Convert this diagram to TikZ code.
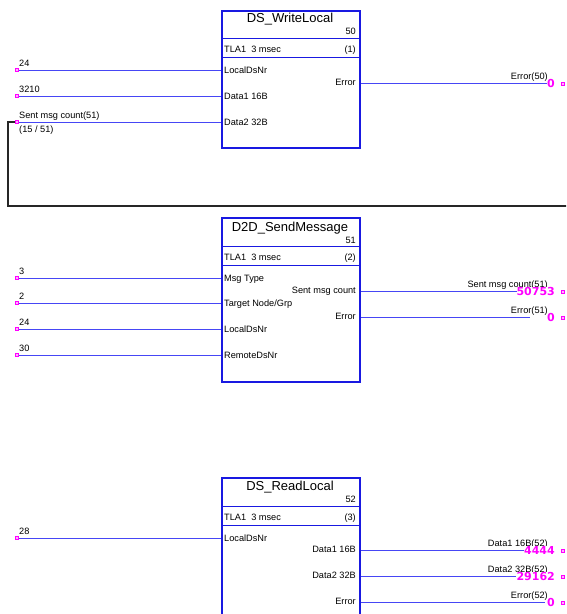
\documentclass[tikz,border=0pt]{standalone}
\usepackage{fontspec}
\setmainfont{Liberation Sans}
\newfontfamily\valfont{DejaVu Sans}
\definecolor{boxblue}{RGB}{25,25,225}
\definecolor{wireblue}{RGB}{70,70,245}
\definecolor{pinmag}{RGB}{255,0,255}
\tikzset{
  fblock/.style={draw=boxblue, line width=2pt, minimum width=138pt, inner sep=0pt, anchor=north west, fill=white},
  sepline/.style={draw=boxblue, line width=1pt},
  wire/.style={draw=wireblue, line width=1pt},
  fbline/.style={draw=black!85, line width=1.2pt},
  pinbox/.style={draw=pinmag, fill=pinmag!30, line width=0.8pt, minimum size=3pt, inner sep=0pt},
  lbl/.style={font=\fontsize{9.2}{10}\selectfont, inner sep=0pt},
  ttl/.style={font=\fontsize{13}{15}\selectfont, inner sep=0pt},
  val/.style={font=\fontsize{11}{13}\valfont\bfseries, text=pinmag, fill=white, inner xsep=0pt, inner ysep=0.5pt, anchor=base east},
}
\begin{document}
\begin{tikzpicture}[x=1pt,y=-1pt]
\useasboundingbox (0,0) rectangle (566,614);
\clip (0,0) rectangle (566,614);

% ---------- feedback line ----------
\coordinate (fbA) at (8,122);
\coordinate (fbB) at (8,206);
\coordinate (fbC) at (567,206);

% ================= Block 1 =================
\node[fblock, minimum height=137pt] (b1) at (221,10) {};
\node[ttl, anchor=base] (b1t) at (290,22.5) {DS\_WriteLocal};
\node[lbl, anchor=base east] (b1n) at (356,34) {50};
\draw[sepline] (221,38.5) -- (359,38.5);
\draw[sepline] (221,57.5) -- (359,57.5);
\node[lbl, anchor=base west] (b1tla) at (224,52.5) {TLA1\ \ 3 msec};
\node[lbl, anchor=base east] (b1o) at (356,52.5) {(1)};
% inputs
\node[pinbox] (i11) at (17,70) {};
\node[pinbox] (i12) at (17,96) {};
\node[pinbox] (i13) at (17,122) {};
\draw[fbline] (i13) -- (fbA) -- (fbB) -- (fbC);
\draw[wire] (i11) -- (i11 -| b1.west);
\draw[wire] (i12) -- (i12 -| b1.west);
\draw[wire] (i13) -- (i13 -| b1.west);
\node[lbl, anchor=base west] at (19,66.5) {24};
\node[lbl, anchor=base west] at (19,92.5) {3210};
\node[lbl, anchor=base west] at (19,118.5) {Sent msg count(51)};
\node[lbl, anchor=base west] at (19,132) {(15 / 51)};
\node[lbl, anchor=base west] at (224,73) {LocalDsNr};
\node[lbl, anchor=base west] at (224,99) {Data1 16B};
\node[lbl, anchor=base west] at (224,125) {Data2 32B};
% outputs
\node[lbl, anchor=base east] at (356,85) {Error};
\coordinate (o11) at (547,83);
\node[lbl, anchor=base east] at (548,79) {Error(50)};
\draw[wire] (b1.east |- o11) -- (o11);
\node[val] (v11) at (555,87.5) {0};
\node[pinbox] (p11) at (563,83.5) {};

% ================= Block 2 =================
\node[fblock, minimum height=164pt] (b2) at (221,217) {};
\node[ttl, anchor=base] (b2t) at (290,231) {D2D\_SendMessage};
\node[lbl, anchor=base east] (b2n) at (356,243) {51};
\draw[sepline] (221,246) -- (359,246);
\draw[sepline] (221,265) -- (359,265);
\node[lbl, anchor=base west] (b2tla) at (224,260) {TLA1\ \ 3 msec};
\node[lbl, anchor=base east] (b2o) at (356,260) {(2)};
% inputs
\node[pinbox] (i21) at (17,278) {};
\node[pinbox] (i22) at (17,303) {};
\node[pinbox] (i23) at (17,329) {};
\node[pinbox] (i24) at (17,355) {};
\draw[wire] (i21) -- (i21 -| b2.west);
\draw[wire] (i22) -- (i22 -| b2.west);
\draw[wire] (i23) -- (i23 -| b2.west);
\draw[wire] (i24) -- (i24 -| b2.west);
\node[lbl, anchor=base west] at (19,274.5) {3};
\node[lbl, anchor=base west] at (19,299.5) {2};
\node[lbl, anchor=base west] at (19,325.5) {24};
\node[lbl, anchor=base west] at (19,351.5) {30};
\node[lbl, anchor=base west] at (224,281) {Msg Type};
\node[lbl, anchor=base west] at (224,306) {Target Node/Grp};
\node[lbl, anchor=base west] at (224,332) {LocalDsNr};
\node[lbl, anchor=base west] at (224,358) {RemoteDsNr};
% outputs
\node[lbl, anchor=base east] at (356,293) {Sent msg count};
\node[lbl, anchor=base east] at (356,319) {Error};
\coordinate (o21) at (517,291);
\coordinate (o22) at (530,317);
\draw[wire] (b2.east |- o21) -- (o21);
\draw[wire] (b2.east |- o22) -- (o22);
\node[lbl, anchor=base east] at (548,287) {Sent msg count(51)};
\node[lbl, anchor=base east] at (548,313) {Error(51)};
\node[val] (v21) at (555,295.5) {50753};
\node[val] (v22) at (555,321.5) {0};
\node[pinbox] (p21) at (563,291.5) {};
\node[pinbox] (p22) at (563,317.5) {};

% ================= Block 3 =================
\node[fblock, minimum height=160pt] (b3) at (221,477) {};
\node[ttl, anchor=base] (b3t) at (290,490.5) {DS\_ReadLocal};
\node[lbl, anchor=base east] (b3n) at (356,502.5) {52};
\draw[sepline] (221,506) -- (359,506);
\draw[sepline] (221,525) -- (359,525);
\node[lbl, anchor=base west] (b3tla) at (224,520) {TLA1\ \ 3 msec};
\node[lbl, anchor=base east] (b3o) at (356,520) {(3)};
% input
\node[pinbox] (i31) at (17,538) {};
\draw[wire] (i31) -- (i31 -| b3.west);
\node[lbl, anchor=base west] at (19,534.5) {28};
\node[lbl, anchor=base west] at (224,541) {LocalDsNr};
% outputs
\node[lbl, anchor=base east] at (356,552) {Data1 16B};
\node[lbl, anchor=base east] at (356,578) {Data2 32B};
\node[lbl, anchor=base east] at (356,604) {Error};
\coordinate (o31) at (526,550);
\coordinate (o32) at (516,576);
\coordinate (o33) at (545,602);
\draw[wire] (b3.east |- o31) -- (o31);
\draw[wire] (b3.east |- o32) -- (o32);
\draw[wire] (b3.east |- o33) -- (o33);
\node[lbl, anchor=base east] at (548,546) {Data1 16B(52)};
\node[lbl, anchor=base east] at (548,572) {Data2 32B(52)};
\node[lbl, anchor=base east] at (548,598) {Error(52)};
\node[val] (v31) at (555,554.5) {4444};
\node[val] (v32) at (555,580.5) {29162};
\node[val] (v33) at (555,606.5) {0};
\node[pinbox] (p31) at (563,550.5) {};
\node[pinbox] (p32) at (563,576.5) {};
\node[pinbox] (p33) at (563,602.5) {};
\end{tikzpicture}
\end{document}
